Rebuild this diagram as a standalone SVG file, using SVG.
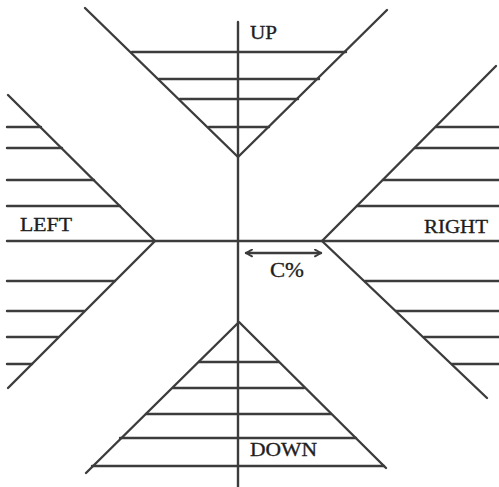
<svg xmlns="http://www.w3.org/2000/svg" width="499" height="487" viewBox="0 0 499 487">
<defs>
<style>
.ln{stroke:#3c3c3c;stroke-width:2.4;fill:none;stroke-linecap:round;stroke-linejoin:round}
.lb{font-family:"Liberation Serif","Times New Roman",serif;font-size:19.5px;fill:#1e1e1e;stroke:#1e1e1e;stroke-width:0.35}
</style>
<marker id="ah" viewBox="0 0 10 10" refX="9" refY="5" markerWidth="8" markerHeight="9" orient="auto-start-reverse" markerUnits="userSpaceOnUse">
<path d="M1.5,0.8 L9,5 L1.5,9.2" fill="none" stroke="#3c3c3c" stroke-width="2.4" stroke-linejoin="round" stroke-linecap="round"/>
</marker>
</defs>
<rect width="499" height="487" fill="#fff"/>
<g id="connectors">
<line class="ln" x1="238" y1="22" x2="238" y2="487"/>
<line class="ln" x1="7" y1="241" x2="499" y2="241"/>
</g>
<g id="up">
<polyline class="ln" points="85,8 238,157 387,10"/>
<line class="ln" x1="132" y1="52" x2="346" y2="52"/>
<line class="ln" x1="159" y1="79" x2="319" y2="79"/>
<line class="ln" x1="180" y1="99" x2="298" y2="99"/>
<line class="ln" x1="209" y1="127" x2="269" y2="127"/>
<text class="lb" x="250" y="39" textLength="27" lengthAdjust="spacingAndGlyphs">UP</text>
</g>
<g id="left">
<polyline class="ln" points="8,95 155,241 8,388"/>
<line class="ln" x1="7" y1="127" x2="41" y2="127"/>
<line class="ln" x1="7" y1="148" x2="62" y2="148"/>
<line class="ln" x1="7" y1="180" x2="94" y2="180"/>
<line class="ln" x1="7" y1="206" x2="120" y2="206"/>
<line class="ln" x1="7" y1="281" x2="115" y2="281"/>
<line class="ln" x1="7" y1="311" x2="84" y2="311"/>
<line class="ln" x1="7" y1="337" x2="58" y2="337"/>
<line class="ln" x1="7" y1="364" x2="32" y2="364"/>
<text class="lb" x="20" y="231" textLength="52" lengthAdjust="spacingAndGlyphs">LEFT</text>
</g>
<g id="right">
<polyline class="ln" points="496,66 322,241 487,398"/>
<line class="ln" x1="436" y1="127" x2="499" y2="127"/>
<line class="ln" x1="415" y1="148" x2="499" y2="148"/>
<line class="ln" x1="383" y1="180" x2="499" y2="180"/>
<line class="ln" x1="357" y1="206" x2="499" y2="206"/>
<line class="ln" x1="365" y1="281" x2="499" y2="281"/>
<line class="ln" x1="396" y1="311" x2="499" y2="311"/>
<line class="ln" x1="424" y1="337" x2="499" y2="337"/>
<line class="ln" x1="452" y1="364" x2="499" y2="364"/>
<text class="lb" x="424" y="233" textLength="64" lengthAdjust="spacingAndGlyphs">RIGHT</text>
</g>
<g id="down">
<polyline class="ln" points="86,473 239,322 386,468"/>
<line class="ln" x1="199" y1="362" x2="279" y2="362"/>
<line class="ln" x1="173" y1="388" x2="304" y2="388"/>
<line class="ln" x1="146" y1="414" x2="331" y2="414"/>
<line class="ln" x1="120" y1="438" x2="356" y2="438"/>
<line class="ln" x1="92" y1="466" x2="384" y2="466"/>
<text class="lb" x="250" y="456" textLength="67" lengthAdjust="spacingAndGlyphs">DOWN</text>
</g>
<g id="c-percent">
<line class="ln" x1="246" y1="253" x2="321" y2="253" marker-start="url(#ah)" marker-end="url(#ah)"/>
<text class="lb" x="270" y="277" style="font-size:22px" textLength="34" lengthAdjust="spacingAndGlyphs">C%</text>
</g>
</svg>
